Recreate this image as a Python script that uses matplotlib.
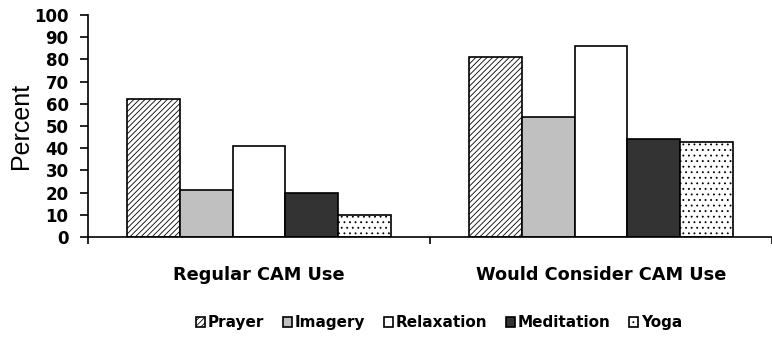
import numpy as np
import matplotlib.pyplot as plt

plt.rcParams['font.family'] = ['DejaVu Sans']
plt.rcParams['hatch.linewidth'] = 0.6

groups = ["Regular CAM Use", "Would Consider CAM Use"]
series = ["Prayer", "Imagery", "Relaxation", "Meditation", "Yoga"]
prayer = [62, 81]
imagery = [21, 54]
relaxation = [41, 86]
meditation = [20, 44]
yoga = [10, 43]
values = [prayer, imagery, relaxation, meditation, yoga]

colors = ["white", "#c0c0c0", "white", "#333333", "white"]
hatches = ["//////", None, None, None, "..."]

fig = plt.figure(figsize=(7.72, 3.41), dpi=100)
ax = fig.add_axes([0.114, 0.305, 0.886, 0.651])

x = np.arange(len(groups))
w = 0.154
for i, (name, vals) in enumerate(zip(series, values)):
    ax.bar(x + (i - 2) * w, vals, w, color=colors[i], hatch=hatches[i],
           edgecolor="black", linewidth=1.2, label=name)

ax.set_xlim(-0.5, 1.5)
ax.set_ylim(0, 100)
ax.set_yticks(range(0, 101, 10))
ax.tick_params(axis="y", labelsize=12, length=6, width=1.2, pad=8)
for t in ax.get_yticklabels():
    t.set_fontweight("bold")
ax.set_xticks(x)
ax.set_xticklabels(groups, fontsize=12.8, fontweight="bold")
ax.tick_params(axis="x", length=0, pad=21)
ax.set_xticks([-0.5, 0.5, 1.5], minor=True)
ax.tick_params(axis="x", which="minor", length=5, width=1.2, direction="out")
ax.set_ylabel("Percent", fontsize=18, family="Liberation Sans", labelpad=1)

for s in ["top", "right"]:
    ax.spines[s].set_visible(False)
ax.spines["left"].set_linewidth(1.2)
ax.spines["bottom"].set_linewidth(1.2)

fig.legend(loc="center", bbox_to_anchor=(0.569, 0.053), ncol=5, frameon=False,
           prop={"weight": "bold", "size": 11}, handlelength=0.6, handleheight=0.6,
           handletextpad=0.2, columnspacing=1.2)

fig.savefig("out.png", dpi=100)
